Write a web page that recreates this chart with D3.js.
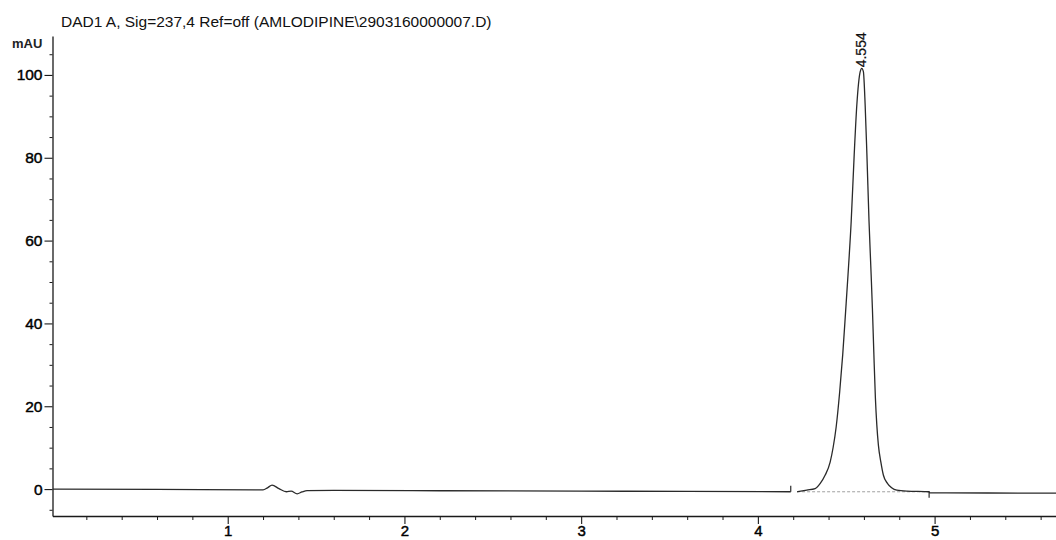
<!DOCTYPE html>
<html>
<head>
<meta charset="utf-8">
<script src="https://cdn.jsdelivr.net/npm/d3@7/dist/d3.min.js"></script>
<style>
html, body { margin: 0; padding: 0; background: #fff; width: 1056px; height: 540px; overflow: hidden; }
svg { display: block; font-family: "Liberation Sans", Arial, sans-serif; }
</style>
</head>
<body>
<div id="root"><svg></svg></div>
<script>
const titleText = 'DAD1 A, Sig=237,4 Ref=off (AMLODIPINE\\2903160000007.D)';
const yUnitLabel = 'mAU';

// retention time (min) / absorbance (mAU); null = pen gap
const timeMin = [
    0.01, 0.6, 1.2, 1.225, 1.251, 1.29, 1.332, 1.359, 1.393, 1.42, 1.449, 1.6,
    2.2, 3.0, 3.6, 4.186, 4.2,
    4.222, 4.277, 4.324, 4.353, 4.381, 4.409, 4.426, 4.443, 4.463, 4.48, 4.497,
    4.51, 4.528, 4.545, 4.56, 4.579, 4.588, 4.597, 4.607, 4.617, 4.629, 4.641,
    4.648, 4.656, 4.665, 4.673, 4.682, 4.696, 4.71, 4.733, 4.786, 4.843, 4.969,
    4.972, 5.3, 5.687
];
const signalMAU = [
    0, -0.05, -0.2, 0.3, 0.97, 0.1, -0.65, -0.5, -1.15, -0.7, -0.35, -0.3,
    -0.4, -0.5, -0.55, -0.65, null,
    -0.65, -0.24, 0.12, 1.38, 3.38, 6.52, 10.1, 15.0, 23.5, 32.4, 43.2,
    51.7, 64.6, 80.7, 92.8, 100.8, 101.6, 100.8, 92.8, 80.7, 64.6, 51.7,
    43.7, 33.1, 22.0, 15.5, 10.6, 6.5, 3.4, 1.4, -0.24, -0.5, -0.65,
    -0.9, -0.95, -1.0
];

const peakTimes = [4.588];
const peakHeights = [101.6];
const peakLabels = ['4.554'];

// integration events: start / end of the peak
const eventTimes = [4.186, 4.969];
const eventLevels = [-0.65, -0.65];
const eventDirs = [1, -1];
const integStart = 4.222, integEnd = 4.969, integLevel = -0.65;

const yMajorTicks = [0, 20, 40, 60, 80, 100];
const yMinorTicks = [-5, 5, 10, 15, 25, 30, 35, 45, 50, 55, 65, 70, 75, 85, 90, 95, 105];
const xMajorTicks = [1, 2, 3, 4, 5];
const xMinorTicks = [0.2, 0.4, 0.6, 0.8, 1.2, 1.4, 1.6, 1.8, 2.2, 2.4, 2.6, 2.8,
    3.2, 3.4, 3.6, 3.8, 4.2, 4.4, 4.6, 4.8, 5.2, 5.4, 5.6];

const width = 1056, height = 540;
const axisColor = '#1a1a1a';
const traceColor = '#2a2a2a';

const x = d3.scaleLinear().domain([0.0085, 5.687]).range([52.5, 1056]);
const y = d3.scaleLinear().domain([-6.5, 109.4]).range([516, 36]);

const svg = d3.select('#root').select('svg')
    .attr('width', width)
    .attr('height', height);

svg.append('text')
    .attr('x', 61)
    .attr('y', 26.5)
    .attr('font-size', '15.5px')
    .attr('fill', '#111')
    .text(titleText);

svg.append('text')
    .attr('x', 12)
    .attr('y', 48)
    .attr('font-size', '13px')
    .attr('font-weight', 'bold')
    .attr('fill', '#222')
    .text(yUnitLabel);

// y axis
const yAxisG = svg.append('g')
    .attr('transform', `translate(${x.range()[0]},0)`)
    .call(d3.axisLeft(y).tickValues(yMajorTicks).tickSize(8).tickSizeOuter(0).tickPadding(2)
        .tickFormat(d3.format('d')));
svg.append('g')
    .attr('transform', `translate(${x.range()[0]},0)`)
    .call(d3.axisLeft(y).tickValues(yMinorTicks).tickSize(3).tickSizeOuter(0).tickFormat(''))
    .call(g => g.select('.domain').remove())
    .selectAll('line').attr('stroke', axisColor);

// x axis
const xAxisG = svg.append('g')
    .attr('transform', `translate(0,${y.range()[0]})`)
    .call(d3.axisBottom(x).tickValues(xMajorTicks).tickSize(8).tickSizeOuter(0).tickPadding(1)
        .tickFormat(d3.format('d')));
svg.append('g')
    .attr('transform', `translate(0,${y.range()[0]})`)
    .call(d3.axisBottom(x).tickValues(xMinorTicks).tickSize(4).tickSizeOuter(0).tickFormat(''))
    .call(g => g.select('.domain').remove())
    .selectAll('line').attr('stroke', axisColor);

[yAxisG, xAxisG].forEach(g => {
    g.select('.domain').attr('stroke', axisColor).attr('stroke-width', 1.3);
    g.selectAll('.tick line').attr('stroke', axisColor).attr('stroke-width', 1.1);
    g.selectAll('.tick text')
        .attr('font-family', '"Liberation Sans", Arial, sans-serif')
        .attr('font-size', '15.5px')
        .attr('fill', '#000')
        .attr('stroke', '#000')
        .attr('stroke-width', 0.45);
});
xAxisG.selectAll('.tick text').attr('font-size', '15px');

// integration baseline under the peak
svg.append('line')
    .attr('x1', x(integStart)).attr('x2', x(integEnd))
    .attr('y1', y(integLevel)).attr('y2', y(integLevel))
    .attr('stroke', '#a0a0a0')
    .attr('stroke-width', 1)
    .attr('stroke-dasharray', '3,2');

// chromatogram trace
const points = timeMin.map((t, i) => ({t: t, v: signalMAU[i]}));
const line = d3.line()
    .defined(d => d.v !== null)
    .x(d => x(d.t))
    .y(d => y(d.v))
    .curve(d3.curveMonotoneX);

svg.append('path')
    .datum(points)
    .attr('fill', 'none')
    .attr('stroke', traceColor)
    .attr('stroke-width', 1.3)
    .attr('d', line);

// event tick marks
svg.append('g')
    .selectAll('line')
    .data(eventTimes)
    .enter()
    .append('line')
    .attr('x1', d => x(d)).attr('x2', d => x(d))
    .attr('y1', (d, i) => y(eventLevels[i]))
    .attr('y2', (d, i) => y(eventLevels[i]) - eventDirs[i] * 6)
    .attr('stroke', traceColor)
    .attr('stroke-width', 1.2);

// retention time label
svg.append('g')
    .selectAll('text')
    .data(peakTimes)
    .enter()
    .append('text')
    .attr('transform', (d, i) => `translate(${x(d) + 4.5},${y(peakHeights[i]) - 1}) rotate(-90)`)
    .attr('font-size', '14px')
    .attr('fill', '#111')
    .attr('stroke', '#111')
    .attr('stroke-width', 0.2)
    .text((d, i) => peakLabels[i]);
</script>
</body>
</html>
